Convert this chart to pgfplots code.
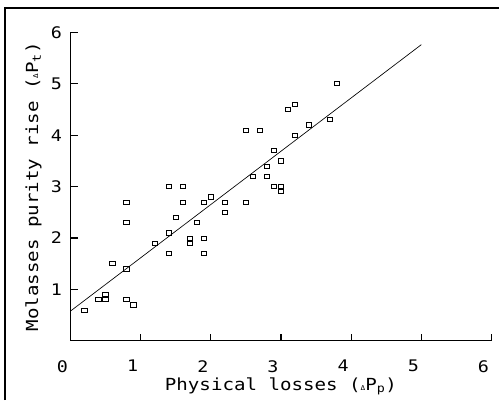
\documentclass[border=0pt]{standalone}
\usepackage{fontspec}
\setmainfont{DejaVu Sans Mono}[FakeStretch=1.15]
\usepackage{pgfplots}
\pgfplotsset{compat=1.18}
\usepackage{pgfplotstable}

\pgfplotstableread{
x y
0.2 0.6
0.4 0.8
0.5 0.8
0.5 0.9
0.6 1.5
0.8 0.8
0.9 0.7
0.8 1.4
0.8 2.3
0.8 2.7
1.2 1.9
1.4 2.1
1.4 1.7
1.4 3.0
1.5 2.4
1.6 2.7
1.6 3.0
1.7 2.0
1.7 1.9
1.8 2.3
1.9 2.0
1.9 1.7
1.9 2.7
2.0 2.8
2.2 2.7
2.2 2.5
2.5 2.7
2.5 4.1
2.6 3.2
2.7 4.1
2.8 3.4
2.8 3.2
2.9 3.7
2.9 3.0
3.0 3.0
3.0 2.9
3.0 3.5
3.1 4.5
3.2 4.6
3.2 4.0
3.4 4.2
3.7 4.3
3.8 5.0
}\losses

\begin{document}
\begin{tikzpicture}
\begin{axis}[
  at={(0pt,0pt)}, anchor=south west,
  scale only axis, width=316.5pt, height=232pt,
  xmin=0, xmax=6, ymin=0, ymax=6,
  xtick={0,...,6}, ytick={1,...,6},
  axis lines=left,
  axis line style={-, line width=0.7pt},
  tick align=inside,
  major tick length=5.5pt,
  tick style={black, line width=0.9pt},
  /pgf/number format/assume math mode=true,
  ticklabel style={font=\fontsize{12}{14}\selectfont},
  xticklabel style={yshift=-11pt, xshift=-6pt},
  yticklabel style={xshift=-3pt},
  xlabel={Physical losses ({\tiny Δ}P\textsubscript{p})},
  ylabel={Molasses purity rise ({\tiny Δ}P\textsubscript{t})},
  label style={font=\fontsize{12.5}{14}\selectfont},
  xlabel style={yshift=3pt},
  clip=false,
]
\addplot[only marks, mark=square, mark size=1.6pt,
  mark options={xscale=1.3, rounded corners=1.2pt, line width=0.6pt, black}]
  table[x=x, y=y] {\losses};
\addplot[black, line width=0.5pt, no markers] coordinates {(0,0.58) (5,5.76)};
% tick marks again by hand, in case the axis' own ones stay hidden
\pgfplotsinvokeforeach{1,...,6}{
  \draw[line width=0.9pt] (axis cs:#1,0) -- ++(0pt,5.5pt);
  \draw[line width=0.9pt] (axis cs:0,#1) -- ++(5.5pt,0pt);
}
\end{axis}
% picture frame, origin at the axis corner
\path (-53.0pt,-44.5pt) rectangle (322.0pt,256.3pt);
\draw[line width=1.8pt] (-49.3pt,-44.5pt) -- (-49.3pt,250.3pt) -- (322.0pt,250.3pt);
\end{tikzpicture}
\end{document}
